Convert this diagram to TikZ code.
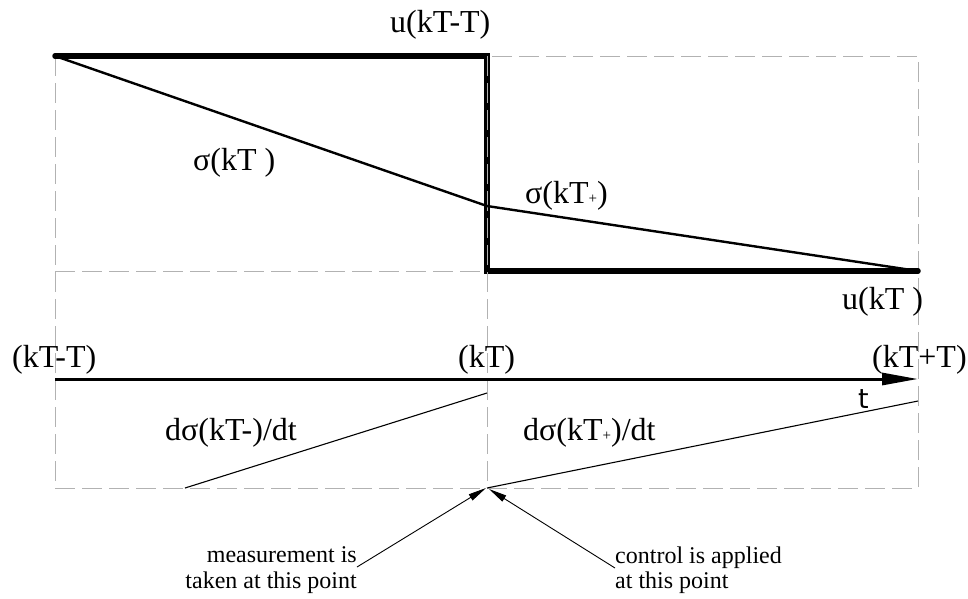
\documentclass[tikz,border=0pt]{standalone}
\usepackage{fontspec}
\setmainfont{Liberation Serif}
\newfontfamily\sansf{DejaVu Sans}
\usetikzlibrary{arrows.meta}
\tikzset{
  grid/.style={draw=black!30, line width=1pt, dash pattern=on 20pt off 7pt},
  thickl/.style={line width=5.5pt, line cap=round, line join=miter},
  sigl/.style={line width=2.4pt, line cap=round},
  thinl/.style={line width=1.1pt},
  lbl/.style={inner sep=0pt, font=\fontsize{32}{32}\selectfont},
  note/.style={inner sep=0pt, font=\fontsize{24}{24}\selectfont},
  callout/.style={line width=0.9pt, -{Triangle[length=18pt,width=7pt]}},
}
\newcommand{\smp}{{\fontsize{15}{15}\selectfont +}}
\begin{document}
\begin{tikzpicture}[x=1pt,y=-1pt]
\useasboundingbox (0,0) rectangle (968,598);
% key points
\coordinate (A) at (55,56);
\coordinate (B) at (487,56);
\coordinate (S) at (487,206);
\coordinate (C) at (487,271);
\coordinate (D) at (918,271);
\coordinate (TR) at (918,56);
\coordinate (BL) at (55,488);
\coordinate (BM) at (487,488);
\coordinate (BR) at (918,488);
\coordinate (ML) at (55,271);
\coordinate (AxL) at (55,379);
\coordinate (AxR) at (918,379);
\coordinate (d1s) at (185,488);
\coordinate (d1e) at (487,393);
\coordinate (d2e) at (918,401);
\coordinate (m1) at (357,567);
\coordinate (c1) at (615,568);
\coordinate (tipL) at (486,488);
\coordinate (tipR) at (489,489);
% grey dashed grid
\draw[grid] (A) -- (BL) -- (BR) -- (TR) -- (B);
\draw[grid] (ML) -- (C);
% thick control signal
\draw[thickl] (A) -- (B) -- (C) -- (D);
\draw[grid] (B) -- (BM);
% sigma
\draw[sigl] (A) -- (S) -- (D);
% derivative lines
\draw[thinl] (d1s) -- (d1e);
\draw[thinl] (BM) -- (d2e);
% time axis
\draw[line width=3pt, -{Triangle[length=36pt,width=12pt]}] (AxL) -- (AxR);
% labels
\node[lbl, anchor=base west] (uTT) at (390,32) {u(kT-T)};
\node[lbl, anchor=base west] (sg1) at (193,170) {σ(kT )};
\node[lbl, anchor=base west] (sg2) at (525,203) {σ(kT\smp)};
\node[lbl, anchor=base west] (ukT) at (842,309) {u(kT )};
\node[lbl, anchor=base west] (t1) at (12,367) {(kT-T)};
\node[lbl, anchor=base west] (t2) at (458,367) {(kT)};
\node[lbl, anchor=base west] (t3) at (872,367) {(kT+T)};
\node[inner sep=0pt, anchor=base west, font=\sansf\fontsize{27}{27}\selectfont] (tt) at (858,408) {t};
\node[lbl, anchor=base west] (ds1) at (165,440) {dσ(kT-)/dt};
\node[lbl, anchor=base west] (ds2) at (523,440) {dσ(kT\smp)/dt};
\node[note, anchor=base east] (n1a) at (357,562) {measurement is};
\node[note, anchor=base east] (n1b) at (357,588) {taken at this point};
\node[note, anchor=base west] (n2a) at (615,563) {control is applied};
\node[note, anchor=base west] (n2b) at (615,588) {at this point};
% callouts
\draw[callout] (m1) -- (tipL);
\draw[callout] (c1) -- (tipR);
\end{tikzpicture}
\end{document}
